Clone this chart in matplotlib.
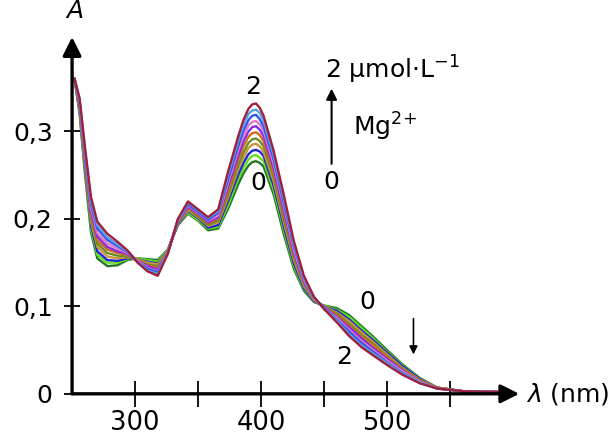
import matplotlib
matplotlib.use('Agg')
import matplotlib.pyplot as plt

# longueurs d'onde (nm)
wl = [252, 256, 260, 265, 270, 278, 286, 294, 302, 310,
      318, 326, 334, 342, 350, 358, 366, 374, 382, 386,
      390, 393, 396, 399, 402, 410, 418, 426, 434, 442,
      450, 460, 470, 480, 490, 500, 512, 526, 540, 560, 590]

# absorbance pour chaque ajout de Mg2+ (0 -> 2 umol/L)
a_00 = [0.360, 0.320, 0.255, 0.185, 0.155, 0.146, 0.147, 0.153, 0.155, 0.154,
        0.153, 0.165, 0.193, 0.206, 0.198, 0.187, 0.189, 0.212, 0.240, 0.252,
        0.261, 0.265, 0.266, 0.264, 0.260, 0.228, 0.183, 0.143, 0.118, 0.105,
        0.101, 0.098, 0.090, 0.077, 0.064, 0.050, 0.034, 0.018, 0.007, 0.003, 0.002]
a_02 = [0.360, 0.322, 0.258, 0.189, 0.159, 0.150, 0.150, 0.154, 0.155, 0.153,
        0.151, 0.165, 0.194, 0.207, 0.199, 0.189, 0.191, 0.216, 0.246, 0.258,
        0.268, 0.272, 0.273, 0.270, 0.266, 0.233, 0.188, 0.146, 0.120, 0.106,
        0.101, 0.096, 0.088, 0.075, 0.062, 0.048, 0.033, 0.017, 0.007, 0.003, 0.002]
a_04 = [0.360, 0.324, 0.261, 0.193, 0.163, 0.153, 0.152, 0.155, 0.154, 0.151,
        0.149, 0.164, 0.194, 0.209, 0.201, 0.190, 0.193, 0.221, 0.251, 0.264,
        0.274, 0.278, 0.279, 0.277, 0.272, 0.238, 0.192, 0.149, 0.121, 0.106,
        0.100, 0.095, 0.085, 0.072, 0.060, 0.047, 0.032, 0.017, 0.007, 0.003, 0.002]
a_06 = [0.360, 0.325, 0.264, 0.197, 0.168, 0.157, 0.155, 0.156, 0.154, 0.150,
        0.148, 0.164, 0.195, 0.210, 0.202, 0.192, 0.196, 0.225, 0.257, 0.270,
        0.281, 0.285, 0.286, 0.283, 0.277, 0.243, 0.197, 0.153, 0.123, 0.107,
        0.100, 0.093, 0.083, 0.070, 0.058, 0.045, 0.030, 0.016, 0.007, 0.003, 0.002]
a_08 = [0.360, 0.327, 0.267, 0.201, 0.172, 0.161, 0.158, 0.157, 0.153, 0.148,
        0.146, 0.163, 0.196, 0.212, 0.203, 0.193, 0.198, 0.229, 0.262, 0.276,
        0.287, 0.291, 0.292, 0.289, 0.283, 0.248, 0.201, 0.156, 0.125, 0.107,
        0.099, 0.092, 0.080, 0.067, 0.056, 0.043, 0.029, 0.016, 0.007, 0.003, 0.002]
a_10 = [0.360, 0.329, 0.270, 0.205, 0.176, 0.165, 0.161, 0.159, 0.153, 0.147,
        0.144, 0.163, 0.197, 0.213, 0.205, 0.195, 0.200, 0.234, 0.268, 0.283,
        0.294, 0.298, 0.299, 0.296, 0.289, 0.253, 0.206, 0.159, 0.127, 0.108,
        0.099, 0.090, 0.078, 0.065, 0.054, 0.042, 0.028, 0.015, 0.007, 0.003, 0.002]
a_12 = [0.360, 0.331, 0.273, 0.209, 0.180, 0.168, 0.163, 0.160, 0.152, 0.146,
        0.142, 0.162, 0.197, 0.214, 0.206, 0.196, 0.202, 0.238, 0.273, 0.289,
        0.300, 0.305, 0.306, 0.302, 0.295, 0.258, 0.210, 0.162, 0.128, 0.109,
        0.099, 0.088, 0.076, 0.063, 0.051, 0.040, 0.027, 0.014, 0.006, 0.003, 0.002]
a_14 = [0.360, 0.333, 0.276, 0.213, 0.184, 0.172, 0.166, 0.161, 0.152, 0.144,
        0.140, 0.162, 0.198, 0.216, 0.207, 0.198, 0.204, 0.242, 0.279, 0.295,
        0.307, 0.311, 0.312, 0.308, 0.301, 0.263, 0.215, 0.165, 0.130, 0.109,
        0.098, 0.087, 0.073, 0.060, 0.049, 0.038, 0.026, 0.014, 0.006, 0.003, 0.002]
a_16 = [0.360, 0.334, 0.279, 0.217, 0.189, 0.176, 0.169, 0.162, 0.151, 0.143,
        0.139, 0.161, 0.199, 0.217, 0.208, 0.199, 0.207, 0.246, 0.284, 0.301,
        0.313, 0.318, 0.319, 0.314, 0.306, 0.268, 0.219, 0.169, 0.132, 0.110,
        0.098, 0.085, 0.071, 0.058, 0.047, 0.036, 0.024, 0.013, 0.006, 0.003, 0.002]
a_18 = [0.360, 0.336, 0.282, 0.221, 0.193, 0.179, 0.171, 0.163, 0.151, 0.141,
        0.137, 0.161, 0.199, 0.219, 0.210, 0.201, 0.209, 0.251, 0.290, 0.307,
        0.320, 0.324, 0.325, 0.321, 0.312, 0.273, 0.224, 0.172, 0.133, 0.110,
        0.097, 0.084, 0.068, 0.055, 0.045, 0.035, 0.023, 0.013, 0.006, 0.003, 0.002]
a_20 = [0.360, 0.338, 0.285, 0.225, 0.197, 0.183, 0.174, 0.164, 0.150, 0.140,
        0.135, 0.160, 0.200, 0.220, 0.211, 0.202, 0.211, 0.255, 0.295, 0.313,
        0.326, 0.331, 0.332, 0.327, 0.318, 0.278, 0.228, 0.175, 0.135, 0.111,
        0.097, 0.082, 0.066, 0.053, 0.043, 0.033, 0.022, 0.012, 0.006, 0.003, 0.002]

spectres = [a_00, a_02, a_04, a_06, a_08, a_10, a_12, a_14, a_16, a_18, a_20]
couleurs = ['#1f7a1f', '#66dd22', '#2222dd', '#c89640', '#6b8e23', '#d2691e',
            '#8a2be2', '#e07ac8', '#3355ee', '#5aa0e6', '#a0203c']

x_ticks = [300, 350, 400, 450, 500, 550]
x_labels = ['300', '', '400', '', '500', '']
y_ticks = [0, 0.1, 0.2, 0.3]
y_labels = ['0', '0,1', '0,2', '0,3']

fig = plt.figure(figsize=(6.16, 4.41), dpi=100)
ax = fig.add_axes([0.117, 0.107, 0.726, 0.809])

for spec, c in zip(spectres, couleurs):
    ax.plot(wl, spec, color=c, lw=1.7, solid_joinstyle='round')

ax.set_xlim(250, 605)
ax.set_ylim(0, 0.408)

for s in ax.spines.values():
    s.set_visible(False)

# axes avec fleches
fleche = dict(arrowstyle='-|>', lw=2.4, color='black', mutation_scale=28,
              shrinkA=0, shrinkB=0)
ax.annotate('', xy=(1, 0), xytext=(0, 0), xycoords='axes fraction',
            arrowprops=fleche, annotation_clip=False)
ax.annotate('', xy=(0, 1), xytext=(0, 0), xycoords='axes fraction',
            arrowprops=fleche, annotation_clip=False)

ax.set_xticks(x_ticks, labels=x_labels)
ax.set_yticks(y_ticks, labels=y_labels)
ax.tick_params(axis='x', direction='inout', length=19, width=1.3,
               labelsize=18.5, pad=2)
ax.tick_params(axis='y', direction='inout', length=12, width=1.3,
               labelsize=18, pad=8)

ax.text(0.007, 1.04, 'A', transform=ax.transAxes, fontsize=18,
        style='italic', ha='center', va='bottom')
ax.text(1.015, 0.0, '$\\lambda$ (nm)', transform=ax.transAxes, fontsize=18,
        ha='left', va='center')

# annotations
ax.text(394, 0.351, '2', fontsize=18, ha='center', va='center')
ax.text(398, 0.241, '0', fontsize=18, ha='center', va='center')
ax.text(484, 0.105, '0', fontsize=18, ha='center', va='center')
ax.text(466, 0.042, '2', fontsize=18, ha='center', va='center')
ax.annotate('', xy=(521, 0.045), xytext=(521, 0.086),
            arrowprops=dict(arrowstyle='-|>', lw=1.2, color='black',
                            mutation_scale=12, shrinkA=0, shrinkB=0))

ax.annotate('', xy=(456, 0.349), xytext=(456, 0.263),
            arrowprops=dict(arrowstyle='-|>', lw=1.5, color='black',
                            mutation_scale=16, shrinkA=0, shrinkB=0))
ax.text(456, 0.242, '0', fontsize=18, ha='center', va='center')
ax.text(451, 0.370, '2 µmol·L$^{\\mathregular{-1}}$', fontsize=18,
        ha='left', va='center')
ax.text(473, 0.305, 'Mg$^{2\\!+}$', fontsize=18,
        ha='left', va='center')

fig.savefig('out.png', dpi=100)
